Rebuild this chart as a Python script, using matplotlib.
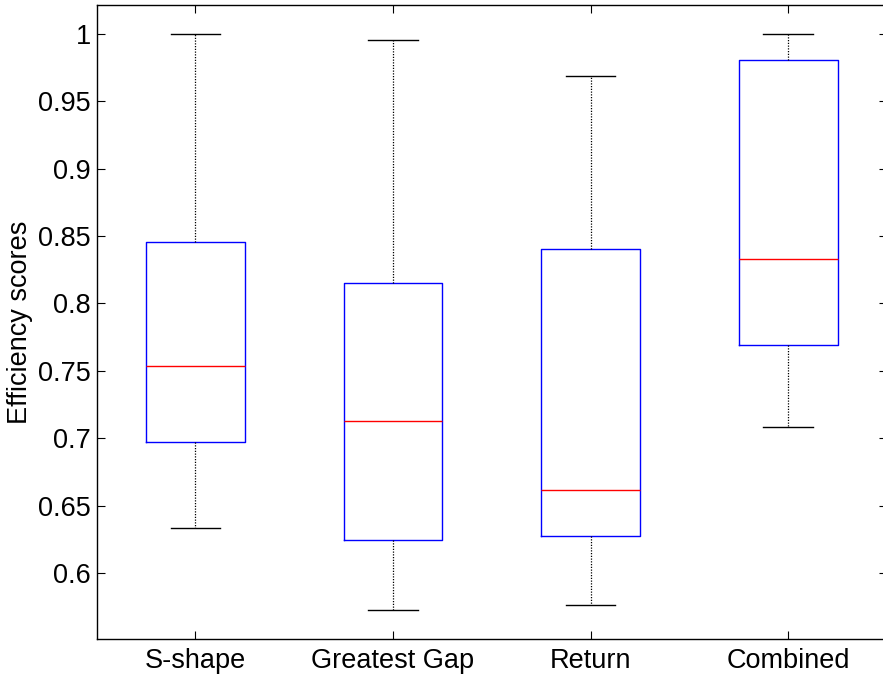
import matplotlib
matplotlib.use("Agg")
import matplotlib.pyplot as plt
from matplotlib.ticker import FixedLocator, FuncFormatter

categories = ["S-shape", "Greatest Gap", "Return", "Combined"]
whisker_low = [0.6335, 0.5725, 0.5762, 0.7086]
q1 = [0.6974, 0.6245, 0.6275, 0.7695]
median = [0.7532, 0.7126, 0.6617, 0.8327]
q3 = [0.8454, 0.8149, 0.8401, 0.9807]
whisker_high = [1.0, 0.9955, 0.9688, 1.0]

plt.rcParams['font.family'] = ['Liberation Sans', 'DejaVu Sans']

W, H = 883, 676
fig = plt.figure(figsize=(W / 100, H / 100), dpi=100)
left, right, top, bottom = 96.5, 887, 5, 638.7
ax = fig.add_axes([left / W, 1 - bottom / H, (right - left) / W, (bottom - top) / H])

stats = []
for i, c in enumerate(categories):
    stats.append(dict(label=c, whislo=whisker_low[i], q1=q1[i], med=median[i],
                      q3=q3[i], whishi=whisker_high[i], fliers=[]))

ax.bxp(stats, positions=range(1, len(categories) + 1), widths=0.5,
       showfliers=False,
       boxprops=dict(color='#0000ff', linewidth=1.0),
       medianprops=dict(color='#ff0000', linewidth=1.0),
       whiskerprops=dict(color='black', linestyle=(0, (1, 1.2)), linewidth=0.9),
       capprops=dict(color='black', linewidth=1.0),
       capwidths=0.25)

ax.set_xlim(0.5, 4.5)
ax.set_ylim(0.5513, 1.0213)
yt = [0.6, 0.65, 0.7, 0.75, 0.8, 0.85, 0.9, 0.95, 1.0]
ax.yaxis.set_major_locator(FixedLocator(yt))
ax.yaxis.set_major_formatter(FuncFormatter(lambda v, p: f"{v:g}"))
ax.set_xticks(range(1, len(categories) + 1))
ax.set_xticklabels(categories)
ax.tick_params(direction='in', length=5.8, width=0.8, top=True, right=True,
               labelsize=19.5)
ax.tick_params(axis='y', pad=4)
ax.tick_params(axis='x', pad=6.5)
for s in ax.spines.values():
    s.set_linewidth(1.0)
ax.set_ylabel("Efficiency scores", fontsize=19.5, labelpad=4)

fig.savefig("out.png", dpi=100)
